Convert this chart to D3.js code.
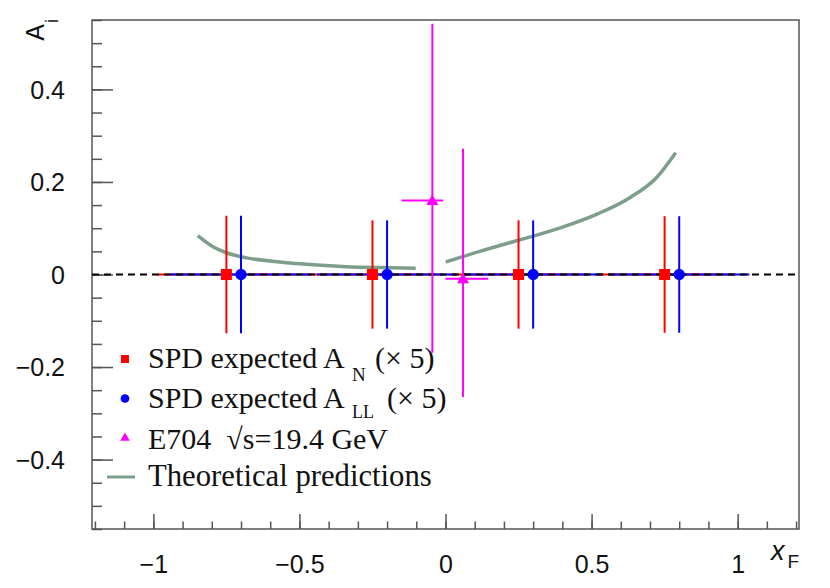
<!DOCTYPE html>
<html><head><meta charset="utf-8">
<script src="https://cdn.jsdelivr.net/npm/d3@7"></script>
<style>body{margin:0;background:#fff}svg{display:block}</style>
</head><body>
<svg id="c" width="830" height="588"></svg>
<script>
// ---- data ----
const anX = [-0.75, -0.25, 0.25, 0.75];
const anY = [0, 0, 0, 0];
const anErr = [0.127, 0.117, 0.117, 0.126];
const anXerr = [0.24, 0.24, 0.24, 0.24];

const allX = [-0.70, -0.20, 0.30, 0.80];
const allY = [0, 0, 0, 0];
const allErr = [0.127, 0.117, 0.117, 0.126];
const allXerr = [0.24, 0.24, 0.24, 0.24];

const e704X = [-0.045, 0.06];
const e704Y = [0.160, -0.009];
const e704XLo = [-0.150, 0.0];
const e704XHi = [-0.008, 0.146];
const e704ErrUp = [0.382, 0.281];
const e704ErrDn = [0.329, 0.256];

const thLeftX = [-0.848, -0.796, -0.75, -0.681, -0.567, -0.453, -0.339, -0.225, -0.102];
const thLeftY = [0.084, 0.060, 0.047, 0.036, 0.027, 0.021, 0.017, 0.015, 0.0137];
const thRightX = [0.001, 0.117, 0.249, 0.30, 0.403, 0.517, 0.631, 0.722, 0.788];
const thRightY = [0.027, 0.050, 0.074, 0.083, 0.103, 0.130, 0.166, 0.209, 0.263];

const xMajor = [-1, -0.5, 0, 0.5, 1];
const xMajorLabels = ["\u22121", "\u22120.5", "0", "0.5", "1"];
const yMajor = [-0.4, -0.2, 0, 0.2, 0.4];
const yMajorLabels = ["\u22120.4", "\u22120.2", "0", "0.2", "0.4"];

// ---- layout ----
const L = 92, R = 799, T = 20, B = 529;
const svg = d3.select("#c");
const x = d3.scaleLinear().domain([-1.21, 1.21]).range([L, R]);
const y = d3.scaleLinear().domain([-0.55, 0.55]).range([B, T]);

const RED = "#ff0000", BLUE = "#0000ff", MAG = "#ff00ff", GRN = "#7d9e8a";
const sans = "'Liberation Sans', Arial, Helvetica, sans-serif";
const serif = "'Liberation Serif', 'Times New Roman', serif";

// frame
svg.append("rect").attr("x", L).attr("y", T).attr("width", R - L).attr("height", B - T)
  .attr("fill", "none").attr("stroke", "#555").attr("stroke-width", 1.5);

// axes ticks (minor and major)
const yMinor = d3.range(-0.55, 0.5501, 0.05).map(v => +v.toFixed(2));
const xMinor = d3.range(-1.2, 1.2001, 0.1).map(v => +v.toFixed(2));

const yAxisMinor = d3.axisLeft(y).tickValues(yMinor).tickSize(-10).tickFormat("");
const yAxisMajor = d3.axisLeft(y).tickValues(yMajor).tickSize(-21).tickPadding(27)
  .tickFormat((d, i) => yMajorLabels[i]);
const gy1 = svg.append("g").attr("transform", `translate(${L},0)`).call(yAxisMinor);
const gy2 = svg.append("g").attr("transform", `translate(${L},0)`).call(yAxisMajor);
const xAxisMinor = d3.axisBottom(x).tickValues(xMinor).tickSize(-7.5).tickFormat("");
const xAxisMajor = d3.axisBottom(x).tickValues(xMajor).tickSize(-15).tickPadding(26)
  .tickFormat((d, i) => xMajorLabels[i]);
const gx1 = svg.append("g").attr("transform", `translate(0,${B})`).call(xAxisMinor);
const gx2 = svg.append("g").attr("transform", `translate(0,${B})`).call(xAxisMajor);
[gy1, gy2, gx1, gx2].forEach(g => {
  g.select(".domain").remove();
  g.selectAll("line").attr("stroke", "#555").attr("stroke-width", 1.5);
  g.selectAll("text").attr("font-family", sans).attr("font-size", 25).attr("fill", "#111");
});
gy2.selectAll("text").attr("dy", "0.35em");
gx2.selectAll("text").attr("dy", "0.71em");

// axis titles
const yt = svg.append("text").attr("transform", "translate(43.5,19) rotate(-90)")
  .attr("text-anchor", "end").attr("font-family", sans).attr("font-size", 25).attr("fill", "#111");
yt.append("tspan").text("A");
yt.append("tspan").attr("font-size", 18).attr("dy", 14).attr("dx", 1).text("i");

const xt = svg.append("text").attr("x", 799).attr("y", 560)
  .attr("text-anchor", "end").attr("font-family", sans).attr("fill", "#111");
xt.append("tspan").attr("font-size", 27).attr("font-style", "italic").text("x");
xt.append("tspan").attr("font-size", 19).attr("dy", 8).attr("dx", 3).text("F");

// theory curves
const line = d3.line().x(d => x(d[0])).y(d => y(d[1])).curve(d3.curveMonotoneX);
[[thLeftX, thLeftY], [thRightX, thRightY]].forEach(([xs, ys]) => {
  svg.append("path").attr("d", line(xs.map((v, i) => [v, ys[i]])))
    .attr("fill", "none").attr("stroke", GRN).attr("stroke-width", 3.5);
});

// SPD series
function errSeries(xs, ys, ex, eyUp, eyDn, color) {
  const g = svg.append("g").attr("stroke", color).attr("stroke-width", 2);
  xs.forEach((v, i) => {
    g.append("line").attr("x1", x(v - ex[i])).attr("x2", x(v + ex[i]))
      .attr("y1", y(ys[i])).attr("y2", y(ys[i]));
    g.append("line").attr("x1", x(v)).attr("x2", x(v))
      .attr("y1", y(ys[i] + eyUp[i])).attr("y2", y(ys[i] - eyDn[i]));
  });
  return g;
}
errSeries(anX, anY, anXerr, anErr, anErr, RED);
errSeries(allX, allY, allXerr, allErr, allErr, BLUE);

// zero dashed line
svg.append("line").attr("x1", L).attr("x2", R).attr("y1", y(0)).attr("y2", y(0))
  .attr("stroke", "#000").attr("stroke-width", 2.2).attr("stroke-dasharray", "7,5");

// markers
const sq = d3.symbol().type(d3.symbolSquare).size(121);
const ci = d3.symbol().type(d3.symbolCircle).size(100);
const tr = d3.symbol().type(d3.symbolTriangle).size(64);
anX.forEach((v, i) => svg.append("path").attr("d", sq).attr("fill", RED)
  .attr("transform", `translate(${x(v)},${y(anY[i])})`));
allX.forEach((v, i) => svg.append("path").attr("d", ci).attr("fill", BLUE)
  .attr("transform", `translate(${x(v)},${y(allY[i])})`));

// E704
const gm = svg.append("g").attr("stroke", MAG).attr("stroke-width", 2);
e704X.forEach((v, i) => {
  gm.append("line").attr("x1", x(e704XLo[i])).attr("x2", x(e704XHi[i]))
    .attr("y1", y(e704Y[i])).attr("y2", y(e704Y[i]));
  gm.append("line").attr("x1", x(v)).attr("x2", x(v))
    .attr("y1", y(e704Y[i] + e704ErrUp[i])).attr("y2", y(e704Y[i] - e704ErrDn[i]));
  svg.append("path").attr("d", tr).attr("fill", MAG)
    .attr("transform", `translate(${x(v)},${y(e704Y[i]) + 1})`);
});

// legend
const lg = svg.append("g").attr("font-family", serif).attr("font-size", 30).attr("fill", "#111");
const lx = 148, base = [368, 407.5, 447, 486];
const lsq = d3.symbol().type(d3.symbolSquare).size(64);
const lci = d3.symbol().type(d3.symbolCircle).size(60);
const ltr = d3.symbol().type(d3.symbolTriangle).size(40);
lg.append("path").attr("d", lsq).attr("fill", RED).attr("transform", `translate(125,${base[0] - 9})`);
lg.append("path").attr("d", lci).attr("fill", BLUE).attr("transform", `translate(125,${base[1] - 9})`);
lg.append("path").attr("d", ltr).attr("fill", MAG).attr("transform", `translate(125,${base[2] - 9})`);
lg.append("line").attr("x1", 107).attr("x2", 135).attr("y1", base[3] - 9).attr("y2", base[3] - 9)
  .attr("stroke", GRN).attr("stroke-width", 3);

const t1 = lg.append("text").attr("x", lx).attr("y", base[0]);
t1.append("tspan").text("SPD expected A");
t1.append("tspan").attr("font-size", 19).attr("x", 352).attr("dy", 13).text("N");
t1.append("tspan").attr("x", 375).attr("dy", -13).text("(\u00d7 5)");

const t2 = lg.append("text").attr("x", lx).attr("y", base[1]);
t2.append("tspan").text("SPD expected A");
t2.append("tspan").attr("font-size", 18).attr("x", 352).attr("dy", 10.5).text("LL");
t2.append("tspan").attr("x", 387).attr("dy", -10.5).text("(\u00d7 5)");

lg.append("text").attr("x", lx).attr("y", base[2] + 2).attr("xml:space", "preserve")
  .text("E704  \u221As=19.4 GeV");
lg.append("text").attr("x", lx).attr("y", base[3]).attr("font-size", 30.7).text("Theoretical predictions");
</script>
</body></html>
